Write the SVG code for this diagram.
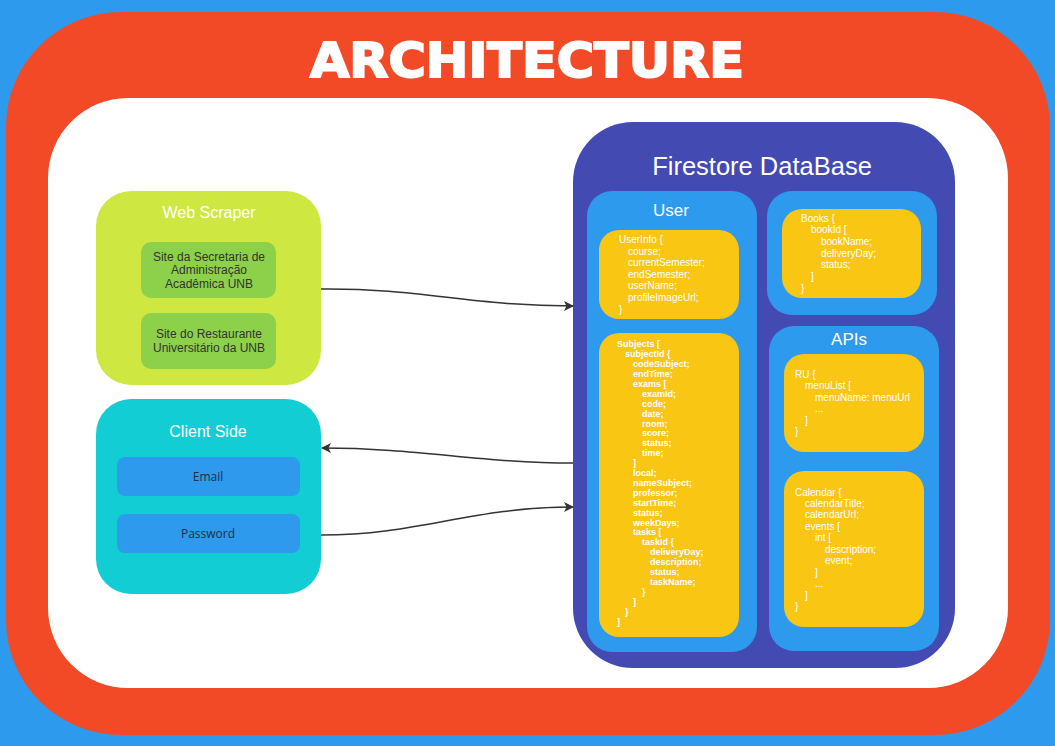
<svg xmlns="http://www.w3.org/2000/svg" width="1055" height="746" viewBox="0 0 1055 746">
<defs>
<style>
.code{font-family:"Liberation Sans",Arial,sans-serif;font-size:10px;fill:#ffffff}
.codeb{font-family:"Liberation Sans",Arial,sans-serif;font-size:9px;font-weight:bold;fill:#ffffff}
.yellow{fill:#F9C614}
.bluep{fill:#2E9AEE}
.ttl{font-family:"Liberation Sans",Arial,sans-serif;fill:#ffffff;text-anchor:middle}
.site{font-family:"Liberation Sans",Arial,sans-serif;font-size:12px;fill:#333333;text-anchor:middle}
.field{font-family:"Open Sans","Liberation Sans",sans-serif;font-size:12px;fill:#1d2f47;text-anchor:middle}
.conn{fill:none;stroke:#333333;stroke-width:1.5}
</style>
<marker id="arr" viewBox="0 0 10 10" refX="9" refY="5" markerWidth="10" markerHeight="10" markerUnits="userSpaceOnUse" orient="auto">
<path d="M0,0 L10,5 L0,10 L2.5,5 Z" fill="#333333"/>
</marker>
</defs>
<rect x="0" y="0" width="1055" height="746" fill="#2E9AEE"/>
<rect x="6" y="12" width="1044" height="723" rx="115" ry="115" fill="#F24A26"/>
<rect x="48" y="98" width="960" height="590" rx="80" ry="80" fill="#ffffff"/>
<text x="527" y="77" text-anchor="middle" font-family="'DejaVu Sans',sans-serif" font-weight="bold" font-size="48" fill="#ffffff" stroke="#ffffff" stroke-width="2" textLength="434" lengthAdjust="spacingAndGlyphs">ARCHITECTURE</text>

<g id="web-scraper">
<rect x="96" y="191" width="225" height="194" rx="35" fill="#CFE741"/>
<text class="ttl" x="209" y="218" font-size="16">Web Scraper</text>
<rect x="141" y="242" width="135" height="56" rx="10" fill="#8DD04A"/>
<text class="site" x="209" y="261">Site da Secretaria de</text>
<text class="site" x="209" y="274">Administração</text>
<text class="site" x="209" y="288">Acadêmica UNB</text>
<rect x="141" y="313" width="135" height="56" rx="10" fill="#8DD04A"/>
<text class="site" x="209" y="338">Site do Restaurante</text>
<text class="site" x="209" y="352">Universitário da UNB</text>
</g>

<g id="client-side">
<rect x="96" y="399" width="225" height="195" rx="35" fill="#13CDD4"/>
<text class="ttl" x="208" y="437" font-size="16">Client Side</text>
<rect x="117" y="457" width="183" height="39" rx="8" fill="#2E9AEE"/>
<text class="field" x="208" y="481">Email</text>
<rect x="117" y="514" width="183" height="39" rx="8" fill="#2E9AEE"/>
<text class="field" x="208" y="538">Password</text>
</g>

<g id="firestore">
<rect x="573" y="122" width="382" height="546" rx="60" fill="#434AB2"/>
<text class="ttl" x="762" y="175" font-size="25.5">Firestore DataBase</text>
</g>

<g id="user">
<rect class="bluep" x="587" y="191" width="170" height="461" rx="25"/>
<text class="ttl" x="671" y="216" font-size="17">User</text>
</g>

<g id="userinfo">
<rect class="yellow" x="599" y="230" width="140" height="89" rx="20"/>
<text class="code" x="619" y="243">UserInfo {</text>
<text class="code" x="628" y="255">course;</text>
<text class="code" x="628" y="266">currentSemester;</text>
<text class="code" x="628" y="278">endSemester;</text>
<text class="code" x="628" y="289">userName;</text>
<text class="code" x="628" y="301">profileImageUrl;</text>
<text class="code" x="619" y="313">}</text>
</g>

<g id="subjects">
<rect class="yellow" x="599" y="333" width="140" height="304" rx="20"/>
<text class="codeb" x="617" y="347">Subjects [</text>
<text class="codeb" x="625" y="357">subjectId {</text>
<text class="codeb" x="633" y="367">codeSubject;</text>
<text class="codeb" x="633" y="377">endTime;</text>
<text class="codeb" x="633" y="387">exams [</text>
<text class="codeb" x="642" y="397">examId;</text>
<text class="codeb" x="642" y="407">code;</text>
<text class="codeb" x="642" y="417">date;</text>
<text class="codeb" x="642" y="427">room;</text>
<text class="codeb" x="642" y="436">score;</text>
<text class="codeb" x="642" y="446">status;</text>
<text class="codeb" x="642" y="456">time;</text>
<text class="codeb" x="633" y="466">]</text>
<text class="codeb" x="633" y="476">local;</text>
<text class="codeb" x="633" y="486">nameSubject;</text>
<text class="codeb" x="633" y="496">professor;</text>
<text class="codeb" x="633" y="506">startTime;</text>
<text class="codeb" x="633" y="516">status;</text>
<text class="codeb" x="633" y="526">weekDays;</text>
<text class="codeb" x="633" y="535">tasks [</text>
<text class="codeb" x="642" y="545">taskId {</text>
<text class="codeb" x="650" y="555">deliveryDay;</text>
<text class="codeb" x="650" y="565">description;</text>
<text class="codeb" x="650" y="575">status;</text>
<text class="codeb" x="650" y="585">taskName;</text>
<text class="codeb" x="642" y="595">}</text>
<text class="codeb" x="633" y="605">]</text>
<text class="codeb" x="625" y="615">}</text>
<text class="codeb" x="617" y="625">]</text>
</g>

<g id="books">
<rect class="bluep" x="767" y="191" width="170" height="124" rx="25"/>
<rect class="yellow" x="782" y="209" width="139" height="89" rx="20"/>
<text class="code" x="801" y="222">Books {</text>
<text class="code" x="811" y="233">bookId [</text>
<text class="code" x="821" y="245">bookName;</text>
<text class="code" x="821" y="257">deliveryDay;</text>
<text class="code" x="821" y="268">status;</text>
<text class="code" x="811" y="280">]</text>
<text class="code" x="801" y="292">}</text>
</g>

<g id="apis">
<rect class="bluep" x="769" y="326" width="170" height="325" rx="25"/>
<text class="ttl" x="849" y="345" font-size="17">APIs</text>
</g>

<g id="ru">
<rect class="yellow" x="784" y="354" width="140" height="98" rx="20"/>
<text class="code" x="795" y="378">RU {</text>
<text class="code" x="805" y="389">menuList [</text>
<text class="code" x="815" y="401">menuName: menuUrl</text>
<text class="code" x="815" y="412">...</text>
<text class="code" x="805" y="424">]</text>
<text class="code" x="795" y="435">}</text>
</g>

<g id="calendar">
<rect class="yellow" x="784" y="471" width="140" height="156" rx="20"/>
<text class="code" x="795" y="496">Calendar {</text>
<text class="code" x="805" y="507">calendarTitle;</text>
<text class="code" x="805" y="518">calendarUrl;</text>
<text class="code" x="805" y="530">events [</text>
<text class="code" x="815" y="541">int [</text>
<text class="code" x="825" y="553">description;</text>
<text class="code" x="825" y="564">event;</text>
<text class="code" x="815" y="576">]</text>
<text class="code" x="815" y="587">...</text>
<text class="code" x="805" y="599">]</text>
<text class="code" x="795" y="610">}</text>
</g>

<g id="connectors">
<path class="conn" d="M321,289 C420,288 470,306 573,306" marker-end="url(#arr)"/>
<path class="conn" d="M573,463 C480,463 420,448 322,448" marker-end="url(#arr)"/>
<path class="conn" d="M321,535 C420,535 470,507 573,507" marker-end="url(#arr)"/>
</g>
</svg>
